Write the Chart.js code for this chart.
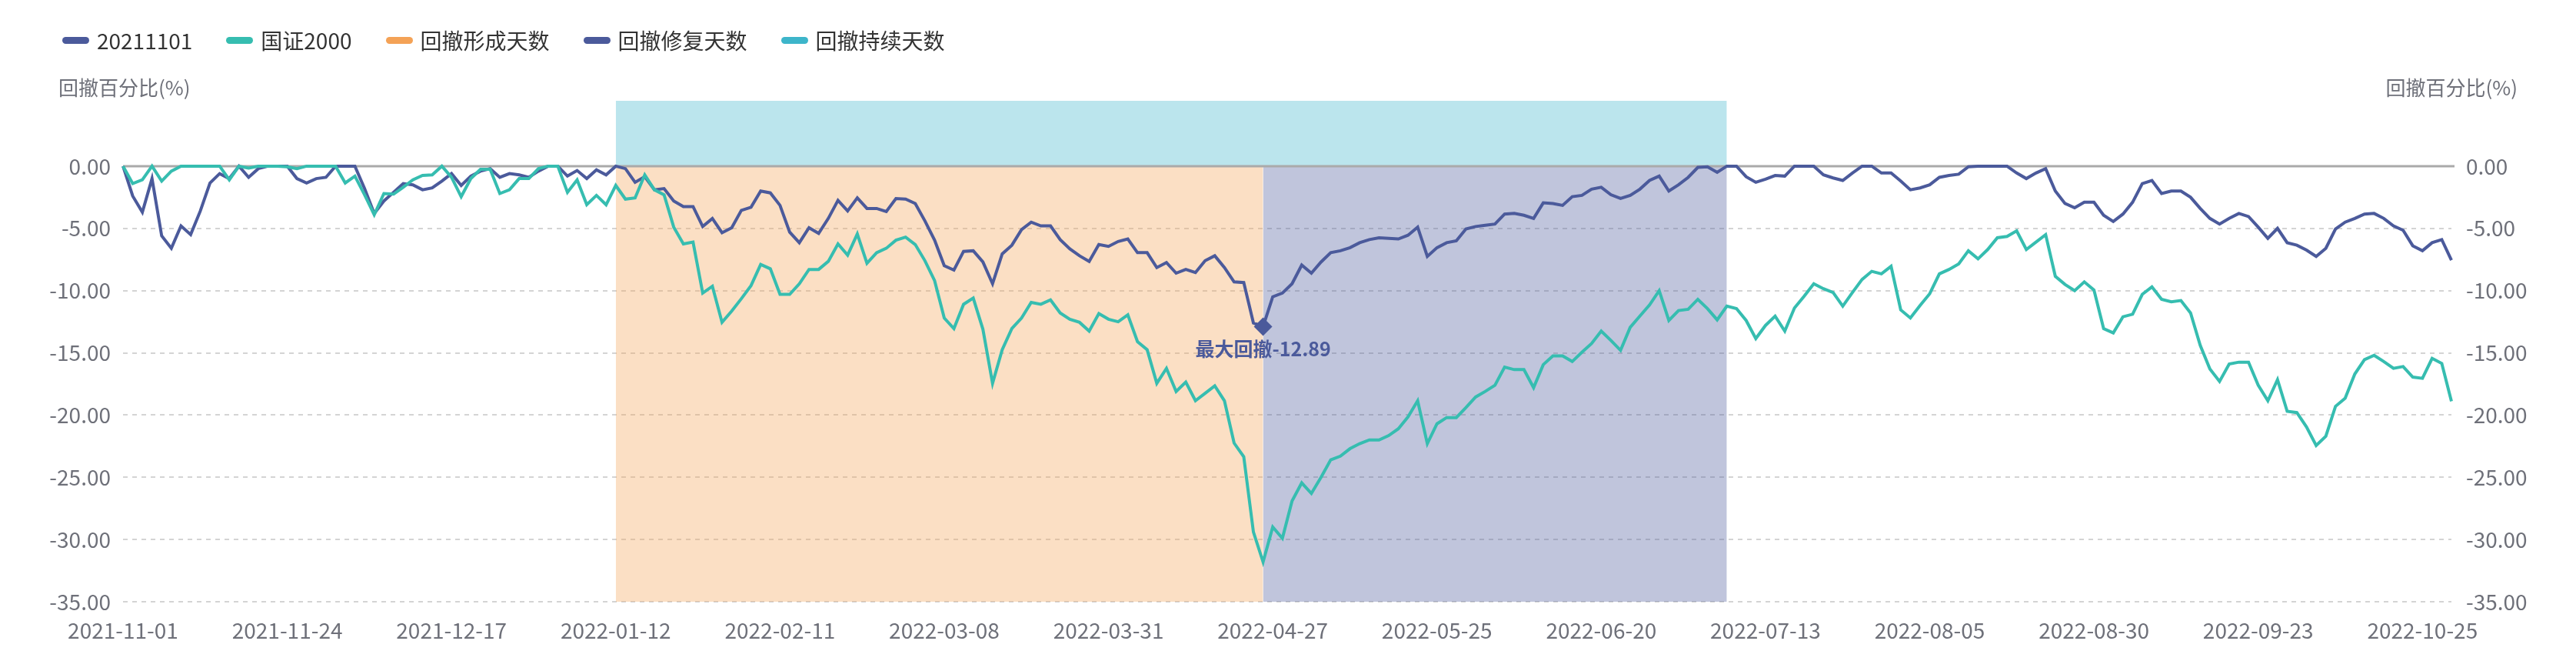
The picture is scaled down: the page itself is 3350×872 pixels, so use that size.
<!DOCTYPE html>
<html>
<head>
<meta charset="utf-8">
<title>回撤分析</title>
<script src="https://cdn.jsdelivr.net/npm/chart.js@4.4.1/dist/chart.umd.min.js"></script>
<style>
  html, body { margin: 0; padding: 0; background: #fff; }
  #wrap { position: relative; width: 3350px; height: 872px; font-family: "Noto Sans CJK SC", "Noto Sans", sans-serif; }
  #chart { position: absolute; left: 0; top: 0; width: 3350px; height: 872px; }
  .legend { position: absolute; left: 81px; top: 32px; height: 40px; display: flex; align-items: center; }
  .legend .item { display: flex; align-items: center; margin-right: 44px; font-size: 28px; color: #333; white-space: nowrap; }
  .legend .icon { width: 35px; height: 9px; border-radius: 4.5px; margin-right: 10px; }
  .axis-name { position: absolute; top: 96px; font-size: 26px; line-height: 34px; color: #6e7079; white-space: nowrap; }
</style>
</head>
<body>
<div id="wrap">
  <canvas id="chart" width="3350" height="872"></canvas>
  <div class="legend" id="legend"></div>
  <div class="axis-name" style="left:76px">回撤百分比(%)</div>
  <div class="axis-name" style="right:76px">回撤百分比(%)</div>
</div>
<script>
'use strict';

// ── Data ────────────────────────────────────────────────
const FIRST_DAY = '2021-11-01';
const LAST_DAY  = '2022-10-28';
// SSE/SZSE closures inside the range
const HOLIDAYS = [
  '2022-01-03', '2022-01-31', '2022-02-01', '2022-02-02', '2022-02-03', '2022-02-04',
  '2022-04-04', '2022-04-05', '2022-05-02', '2022-05-03', '2022-05-04', '2022-06-03',
  '2022-09-12', '2022-10-03', '2022-10-04', '2022-10-05', '2022-10-06', '2022-10-07',
];

const X_TICKS = [
  '2021-11-01', '2021-11-24', '2021-12-17', '2022-01-12', '2022-02-11',
  '2022-03-08', '2022-03-31', '2022-04-27', '2022-05-25', '2022-06-20',
  '2022-07-13', '2022-08-05', '2022-08-30', '2022-09-23', '2022-10-25',
];
const Y_TICKS = [0, -5, -10, -15, -20, -25, -30, -35];

const LEGEND_NAMES = ['20211101', '国证2000', '回撤形成天数', '回撤修复天数', '回撤持续天数'];

// drawdown of the product (%)
const fund = [
  0, -2.4, -3.7, -1.0, -5.6, -6.6, -4.8, -5.5, -3.6, -1.35,
  -0.6, -1.0, 0, -0.9, -0.2, 0, 0, 0, -1.0, -1.35,
  -1.0, -0.9, 0, 0, 0, -1.8, -3.8, -2.8, -2.1, -1.4,
  -1.5, -1.9, -1.75, -1.2, -0.6, -1.55, -0.8, -0.4, -0.2, -0.9,
  -0.6, -0.7, -0.9, -0.4, 0, 0, -0.8, -0.35, -1.0, -0.3,
  -0.7, 0, -0.2, -1.3, -0.85, -1.9, -1.8, -2.8, -3.25, -3.25,
  -4.85, -4.2, -5.35, -4.95, -3.55, -3.3, -2.0, -2.15, -3.15, -5.3,
  -6.15, -4.95, -5.4, -4.2, -2.75, -3.6, -2.55, -3.4, -3.4, -3.65,
  -2.6, -2.65, -3.0, -4.4, -5.95, -8.0, -8.35, -6.85, -6.8, -7.7,
  -9.45, -7.05, -6.35, -5.1, -4.5, -4.8, -4.8, -5.9, -6.65, -7.2,
  -7.65, -6.3, -6.45, -6.05, -5.85, -6.95, -6.95, -8.15, -7.75, -8.6,
  -8.3, -8.55, -7.6, -7.2, -8.15, -9.3, -9.35, -12.6, -12.89, -10.5,
  -10.2, -9.45, -7.95, -8.6, -7.7, -6.95, -6.8, -6.55, -6.15, -5.9,
  -5.75, -5.8, -5.85, -5.55, -4.9, -7.25, -6.55, -6.15, -6.0, -5.05,
  -4.85, -4.75, -4.65, -3.85, -3.8, -3.95, -4.2, -2.95, -3.0, -3.15,
  -2.45, -2.35, -1.85, -1.7, -2.3, -2.6, -2.35, -1.85, -1.15, -0.8,
  -2.0, -1.5, -0.9, -0.1, -0.05, -0.5, 0, 0, -0.85, -1.3,
  -1.05, -0.75, -0.8, 0, 0, 0, -0.7, -0.95, -1.15, -0.55,
  0, 0, -0.55, -0.55, -1.2, -1.9, -1.75, -1.5, -0.9, -0.75,
  -0.65, -0.05, 0, 0, 0, 0, -0.55, -1.0, -0.55, -0.2,
  -2.0, -3.0, -3.35, -2.9, -2.9, -3.95, -4.45, -3.85, -2.9, -1.4,
  -1.15, -2.2, -2.0, -2.0, -2.5, -3.4, -4.2, -4.65, -4.2, -3.8,
  -4.05, -4.9, -5.8, -5.0, -6.15, -6.35, -6.75, -7.25, -6.6, -5.05,
  -4.5, -4.2, -3.85, -3.8, -4.2, -4.8, -5.15, -6.4, -6.8, -6.15,
  -5.9, -7.55,
];

// drawdown of 国证2000 (%)
const index2000 = [
  0, -1.4, -1.1, 0, -1.2, -0.4, 0, 0, 0, 0,
  0, -1.1, 0, -0.15, 0, 0, 0, -0.05, -0.2, 0,
  0, 0, 0, -1.35, -0.8, -2.3, -3.9, -2.2, -2.25, -1.7,
  -1.1, -0.75, -0.7, 0, -0.9, -2.45, -1.0, -0.25, -0.25, -2.2,
  -1.9, -1.0, -1.0, -0.2, 0, 0, -2.1, -1.1, -3.1, -2.35,
  -3.1, -1.55, -2.65, -2.55, -0.7, -1.9, -2.3, -4.9, -6.25, -6.1,
  -10.2, -9.65, -12.55, -11.65, -10.65, -9.6, -7.9, -8.25, -10.3, -10.3,
  -9.45, -8.3, -8.3, -7.65, -6.25, -7.15, -5.45, -7.8, -6.95, -6.6,
  -5.95, -5.7, -6.3, -7.6, -9.2, -12.2, -13.05, -11.1, -10.6, -13.1,
  -17.45, -14.75, -13.05, -12.2, -10.95, -11.1, -10.75, -11.8, -12.3, -12.55,
  -13.25, -11.85, -12.3, -12.5, -11.95, -14.1, -14.75, -17.45, -16.25, -18.1,
  -17.35, -18.85, -18.25, -17.65, -18.85, -22.25, -23.35, -29.4, -31.8, -29.0,
  -29.9, -26.9, -25.45, -26.3, -25.0, -23.6, -23.3, -22.7, -22.3, -22.0,
  -22.0, -21.65, -21.1, -20.15, -18.85, -22.3, -20.7, -20.2, -20.2, -19.4,
  -18.55, -18.1, -17.6, -16.15, -16.35, -16.35, -17.8, -15.95, -15.25, -15.25,
  -15.7, -14.95, -14.25, -13.25, -14.0, -14.8, -12.95, -12.05, -11.15, -10.0,
  -12.4, -11.6, -11.5, -10.7, -11.45, -12.35, -11.25, -11.45, -12.4, -13.85,
  -12.8, -12.05, -13.25, -11.4, -10.45, -9.45, -9.85, -10.15, -11.25, -10.15,
  -9.1, -8.45, -8.65, -8.05, -11.55, -12.2, -11.2, -10.25, -8.65, -8.3,
  -7.85, -6.8, -7.45, -6.7, -5.75, -5.65, -5.2, -6.7, -6.1, -5.5,
  -8.85, -9.5, -10.0, -9.3, -9.95, -13.05, -13.4, -12.1, -11.9, -10.3,
  -9.7, -10.7, -10.9, -10.8, -11.8, -14.4, -16.3, -17.3, -15.9, -15.75,
  -15.75, -17.6, -18.85, -17.15, -19.7, -19.8, -20.95, -22.45, -21.7, -19.3,
  -18.65, -16.7, -15.55, -15.2, -15.7, -16.25, -16.1, -16.95, -17.05, -15.45,
  -15.85, -18.9,
];

// drawdown phases
const PEAK_DATE    = '2022-01-12';
const TROUGH_DATE  = '2022-04-26';
const RECOVER_DATE = '2022-07-07';

// ── Style ───────────────────────────────────────────────
const FONT    = '"Noto Sans CJK SC", "Noto Sans", sans-serif';
const NAVY    = '#4b5a9b';
const TEAL    = '#36bdb0';
const ORANGE  = '#f4a256';
const CYAN    = '#3db5ca';
const LABEL   = '#6e7079';
const Y_MIN   = -35;
const Y_MAX   = 5.25;

// ── Trading calendar ────────────────────────────────────
function tradingDays(from, to, holidays) {
  const out = [];
  const end = Date.parse(to + 'T00:00:00Z');
  for (let t = Date.parse(from + 'T00:00:00Z'); t <= end; t += 86400000) {
    const d = new Date(t);
    const day = d.getUTCDay();
    const s = d.toISOString().slice(0, 10);
    if (day !== 0 && day !== 6 && !holidays.includes(s)) out.push(s);
  }
  return out;
}
const dates = tradingDays(FIRST_DAY, LAST_DAY, HOLIDAYS);

function band(fromDate, toDate, level) {
  const a = dates.indexOf(fromDate);
  const b = dates.indexOf(toDate);
  return dates.map((_, i) => (i >= a && i <= b ? level : null));
}

const troughIdx = dates.indexOf(TROUGH_DATE);

// ── Legend (HTML) ───────────────────────────────────────
const legendColors = [NAVY, TEAL, ORANGE, NAVY, CYAN];
document.getElementById('legend').innerHTML = LEGEND_NAMES.map((name, i) =>
  `<div class="item"><span class="icon" style="background:${legendColors[i]}"></span>${name}</div>`
).join('');

// ── Plugins ─────────────────────────────────────────────
const zeroLine = {
  id: 'zeroLine',
  beforeDatasetDraw(chart, args) {
    if (args.index !== 1) return;          // first line series drawn, after the bands
    const { ctx, chartArea, scales } = chart;
    const y = scales.y.getPixelForValue(0);
    ctx.save();
    ctx.strokeStyle = '#aaaaaa';
    ctx.lineWidth = 3;
    ctx.beginPath();
    ctx.moveTo(chartArea.left, y);
    ctx.lineTo(chartArea.right + 4, y);
    ctx.stroke();
    ctx.restore();
  },
};

const troughLabel = {
  id: 'troughLabel',
  afterDatasetsDraw(chart) {
    const pt = chart.getDatasetMeta(1).data[troughIdx];
    if (!pt) return;
    const { ctx } = chart;
    ctx.save();
    ctx.font = `bold 25px ${FONT}`;
    ctx.fillStyle = NAVY;
    ctx.textAlign = 'center';
    ctx.textBaseline = 'middle';
    ctx.fillText('最大回撤' + fund[troughIdx].toFixed(2), pt.x, pt.y + 29);
    ctx.restore();
  },
};

// ── Chart ───────────────────────────────────────────────
const yTicks = scale => { scale.ticks = Y_TICKS.map(v => ({ value: v })); };

new Chart(document.getElementById('chart'), {
  type: 'line',
  data: {
    labels: dates,
    datasets: [
      {
        label: LEGEND_NAMES[1],
        data: index2000,
        borderColor: TEAL,
        borderWidth: 4,
        pointRadius: 0,
        tension: 0,
        order: 0,
      },
      {
        label: LEGEND_NAMES[0],
        data: fund,
        borderColor: NAVY,
        borderWidth: 4,
        pointStyle: 'rectRot',
        pointRadius: c => (c.dataIndex === troughIdx ? 12 : 0),
        pointBackgroundColor: NAVY,
        pointBorderWidth: 0,
        tension: 0,
        order: 1,
      },
      {
        label: LEGEND_NAMES[2],
        data: band(PEAK_DATE, TROUGH_DATE, Y_MIN),
        fill: { value: 0 },
        backgroundColor: 'rgba(244,162,86,0.35)',
        borderWidth: 0,
        borderColor: 'rgba(0,0,0,0)',
        pointRadius: 0,
        order: 2,
      },
      {
        label: LEGEND_NAMES[3],
        data: band(TROUGH_DATE, RECOVER_DATE, Y_MIN),
        fill: { value: 0 },
        backgroundColor: 'rgba(75,90,155,0.35)',
        borderWidth: 0,
        borderColor: 'rgba(0,0,0,0)',
        pointRadius: 0,
        order: 3,
      },
      {
        label: LEGEND_NAMES[4],
        data: band(PEAK_DATE, RECOVER_DATE, Y_MAX),
        fill: { value: 0 },
        backgroundColor: 'rgba(61,181,202,0.35)',
        borderWidth: 0,
        borderColor: 'rgba(0,0,0,0)',
        pointRadius: 0,
        order: 4,
      },
    ],
  },
  options: {
    responsive: false,
    animation: false,
    devicePixelRatio: 1,
    layout: { padding: { top: 131, left: 0, right: 0, bottom: 0 } },
    plugins: {
      legend: { display: false },
      tooltip: { enabled: false },
    },
    scales: {
      x: {
        type: 'category',
        grid: { display: false },
        border: { display: false },
        ticks: {
          autoSkip: false,
          maxRotation: 0,
          padding: 13,
          color: LABEL,
          font: { size: 28, family: FONT },
          callback(v) {
            const l = this.getLabelForValue(v);
            return X_TICKS.includes(l) ? l : '';
          },
        },
        afterFit(s) { s.height = 90; },
      },
      y: {
        position: 'left',
        min: Y_MIN,
        max: Y_MAX,
        afterBuildTicks: yTicks,
        ticks: {
          padding: 16,
          color: LABEL,
          font: { size: 28, family: FONT },
          callback: v => Number(v).toFixed(2),
        },
        grid: { color: '#d4d4d4', lineWidth: 2, drawTicks: false },
        border: { display: false, dash: [6, 6] },
        afterFit(s) { s.width = 160; },
      },
      y2: {
        position: 'right',
        min: Y_MIN,
        max: Y_MAX,
        afterBuildTicks: yTicks,
        ticks: {
          padding: 19,
          color: LABEL,
          font: { size: 28, family: FONT },
          callback: v => Number(v).toFixed(2),
        },
        grid: { display: false, drawTicks: false },
        border: { display: false },
        afterFit(s) { s.width = 162; },
      },
    },
  },
  plugins: [zeroLine, troughLabel],
});
</script>
</body>
</html>
